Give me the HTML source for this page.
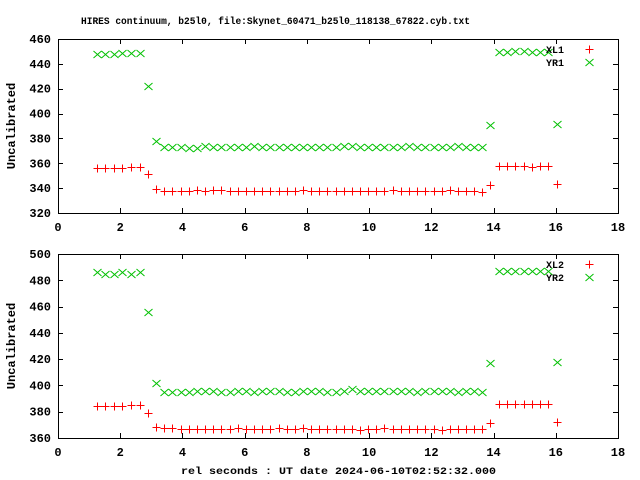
<!DOCTYPE html>
<html><head><meta charset="utf-8"><style>
html,body{margin:0;padding:0;background:#fff}
svg{display:block}
text{font-family:"Liberation Mono",monospace;font-weight:bold;font-size:10px;fill:#000}
.tk{font-size:12px}
</style></head><body>
<svg id="chart" width="640" height="480" viewBox="0 0 640 480" xmlns="http://www.w3.org/2000/svg">
<text x="81" y="24" textLength="389" lengthAdjust="spacingAndGlyphs">HIRES continuum, b25l0, file:Skynet_60471_b25l0_118138_67822.cyb.txt</text>
<text x="181" y="474" font-size="12" textLength="315" lengthAdjust="spacingAndGlyphs">rel seconds : UT date 2024-06-10T02:52:32.000</text>
</svg>
<script>
const times = [1.25,1.52,1.79,2.07,2.35,2.62,2.9,3.16,
3.42,3.68,3.94,4.21,4.47,4.73,4.99,5.25,5.52,5.78,6.04,6.30,6.56,6.83,7.09,7.35,7.61,7.87,8.14,8.40,8.66,8.92,9.18,9.45,9.71,9.97,10.23,10.49,10.76,11.02,11.28,11.54,11.80,12.07,12.33,12.59,12.85,13.11,13.38,13.64,
13.9,14.17,14.44,14.7,14.97,15.24,15.5,15.76,16.05];
const xl1 = [356,356,356,356,357,357,351,339,
337.5,337.5,337.5,337.5,338.5,337.5,338.5,338.5,337.5,337.5,337.5,337.5,337.5,337.5,337.5,337.5,337.5,338.5,337.5,337.5,337.5,337.5,337.5,337.5,337.5,337.5,337.5,337.5,338.5,337.5,337.5,337.5,337.5,337.5,337.5,338.5,337.5,337.5,337.5,336.5,
342.5,357.8,357.8,357.8,357.8,357,357.8,357.8,343.3];
const yr1 = [448,448,448,449,449,449,422,378,
373,373,373,372,372,374,373,373,373,373,373,374,373,373,373,373,373,373,373,373,373,373,374,374,373,373,373,373,373,373,374,373,373,373,373,373,374,373,373,373,
390.5,449.3,449.3,450,450,449.3,449.3,449.3,392];
const xl2 = [384.5,384.5,384.5,384.5,385,385,379,368.2,
367.3,367.3,366.6,366.6,366.6,366.6,366.6,366.6,366.6,367.3,366.6,366.6,366.6,366.6,367.3,366.6,366.6,367.3,366.6,366.6,366.6,366.6,366.6,366.6,366,366.6,366.6,367.3,366.6,366.6,366.6,366.6,366.6,366.6,366,366.6,366.6,366.6,366.6,366.6,
371.2,385.6,386.2,386.2,386.2,386.2,385.6,386.2,372.2];
const yr2 = [486,485,485,486,485,486,455.6,401.6,
395,395,395,395,396,396,396,395,395,396,396,395,396,396,396,395,395,396,396,396,395,395,396,397,396,396,396,396,396,396,396,395,396,396,396,396,395,396,396,395,
416.8,487.3,486.7,487.3,487.3,487.3,486.7,487.3,417.6];
const xTicks = [0,2,4,6,8,10,12,14,16,18];
const yTicksTop = [320,340,360,380,400,420,440,460];
const yTicksBot = [360,380,400,420,440,460,480,500];

const NS='http://www.w3.org/2000/svg';
const svg=document.getElementById('chart');
function mk(tag,attrs,parent){const e=document.createElementNS(NS,tag);for(const k in attrs)e.setAttribute(k,attrs[k]);(parent||svg).appendChild(e);return e;}

function panel(name,top,bottom,yTicks,s1,s2,l1,l2){
  const L=58,R=618,xmin=0,xmax=18,ymin=yTicks[0],ymax=yTicks[yTicks.length-1];
  const sx=v=>L+(v-xmin)/(xmax-xmin)*(R-L);
  const sy=v=>bottom-(v-ymin)/(ymax-ymin)*(bottom-top);
  const g=mk('g',{});
  
  
  const fr=mk('rect',{x:L+.5,y:top+.5,width:R-L,height:bottom-top,fill:'none',stroke:'#000','stroke-width':1},g);
  
  
  xTicks.forEach(t=>{
    const x=Math.round(sx(t))+.5;
    mk('line',{x1:x,y1:bottom,x2:x,y2:bottom-5,stroke:'#000'},g);
    mk('line',{x1:x,y1:top,x2:x,y2:top+5,stroke:'#000'},g);
    const tx=mk('text',{x:sx(t),y:bottom+18,'text-anchor':'middle','class':'tk'},g);
    
    
    tx.textContent=t;
  });
  yTicks.forEach(t=>{
    const y=Math.round(sy(t))+.5;
    mk('line',{x1:L,y1:y,x2:L+5,y2:y,stroke:'#000'},g);
    mk('line',{x1:R,y1:y,x2:R-5,y2:y,stroke:'#000'},g);
    const tx=mk('text',{x:51,y:sy(t)+4,'text-anchor':'end','class':'tk'},g);
    
    
    tx.textContent=t;
  });
  const yl=mk('text',{x:0,y:0,transform:`translate(15,${(top+bottom)/2}) rotate(-90)`,'text-anchor':'middle','class':'tk'},g);
  
  
  yl.textContent='Uncalibrated';
  function plus(x,y,p){mk('path',{d:`M${x-4},${y}H${x+4}M${x},${y-4}V${y+4}`,stroke:'#f00','stroke-width':1,fill:'none'},p);}
  function cross(x,y,p){mk('path',{d:`M${x-4},${y-3.5}L${x+4},${y+3.5}M${x-4},${y+3.5}L${x+4},${y-3.5}`,stroke:'#00c000','stroke-width':1,fill:'none'},p);}
  const g2=mk('g',{},g);
  
  
  s2.forEach((v,i)=>cross(Math.round(sx(times[i]))+.5,Math.round(sy(v))+.5,g2));
  const g1=mk('g',{},g);
  
  
  s1.forEach((v,i)=>plus(Math.round(sx(times[i]))+.5,Math.round(sy(v))+.5,g1));
  const lg=mk('g',{},g);
  
  
  const t1=mk('text',{x:564,y:top+14,'text-anchor':'end','font-size':'11'},lg);
  
  
  t1.textContent=l1;
  plus(589.5,top+10.5,lg);
  const t2=mk('text',{x:564,y:top+27,'text-anchor':'end','font-size':'11'},lg);
  
  
  t2.textContent=l2;
  cross(589.5,top+23.5,lg);
}
panel('top-panel',39,213,yTicksTop,xl1,yr1,'XL1','YR1');
panel('bottom-panel',254,438,yTicksBot,xl2,yr2,'XL2','YR2');
</script>
</body></html>
